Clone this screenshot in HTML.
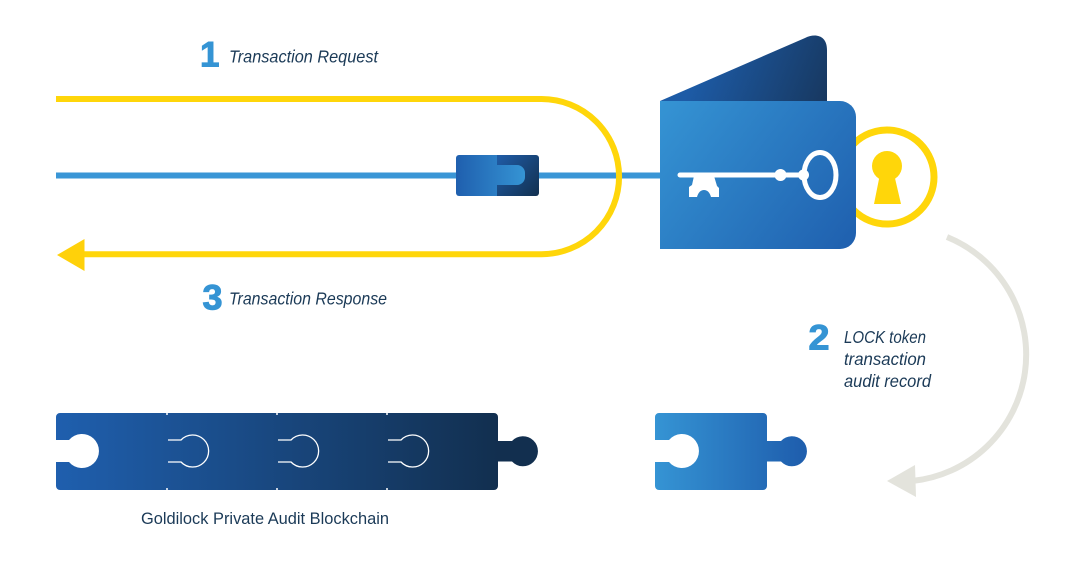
<!DOCTYPE html>
<html>
<head>
<meta charset="utf-8">
<style>
html,body{margin:0;padding:0;background:#fff;width:1080px;height:588px;overflow:hidden}
svg{display:block}
.t{font-family:"Liberation Sans",sans-serif;font-style:italic;font-size:17.500px;fill:#1b3a57}
.n{font-family:"Liberation Sans",sans-serif;font-weight:bold;font-size:35px;fill:#3594d4;stroke:#3594d4;stroke-width:1px}
</style>
</head>
<body>
<svg width="1080" height="588" viewBox="0 0 1080 588" xmlns="http://www.w3.org/2000/svg">
<defs>
<linearGradient id="wal" gradientUnits="userSpaceOnUse" x1="660" y1="101" x2="856" y2="249"><stop offset="0" stop-color="#3594d4"/><stop offset="1" stop-color="#1f5fae"/></linearGradient>
<linearGradient id="flap" gradientUnits="userSpaceOnUse" x1="700" y1="60" x2="827" y2="110"><stop offset="0" stop-color="#1d5ba6"/><stop offset="1" stop-color="#17375e"/></linearGradient>
<linearGradient id="chain" gradientUnits="userSpaceOnUse" x1="56" y1="0" x2="498" y2="0"><stop offset="0" stop-color="#1f5fae"/><stop offset="1" stop-color="#122f4f"/></linearGradient>
<linearGradient id="piece" gradientUnits="userSpaceOnUse" x1="655" y1="0" x2="800" y2="0"><stop offset="0" stop-color="#3594d4"/><stop offset="1" stop-color="#1f5fae"/></linearGradient>
<linearGradient id="tokL" gradientUnits="userSpaceOnUse" x1="456" y1="0" x2="525" y2="0"><stop offset="0" stop-color="#1f5fae"/><stop offset="1" stop-color="#3594d4"/></linearGradient>
<linearGradient id="tokR" gradientUnits="userSpaceOnUse" x1="497" y1="160" x2="539" y2="196"><stop offset="0" stop-color="#1f5aa3"/><stop offset="1" stop-color="#12304f"/></linearGradient>
</defs>

<!-- blue line -->
<rect x="56" y="172.500" width="606" height="6" fill="#3a96d6"/>

<!-- token -->
<path d="M459 155H497V196H459a3 3 0 0 1-3-3V158a3 3 0 0 1 3-3Z" fill="url(#tokL)"/>
<path d="M497 155H536a3 3 0 0 1 3 3V193a3 3 0 0 1-3 3H497Z" fill="url(#tokR)"/>
<path d="M497 165H517a8 8 0 0 1 8 8V177a8 8 0 0 1-8 8H497Z" fill="url(#tokL)"/>

<!-- yellow path -->
<path d="M56 99H541.500A77.600 77.600 0 0 1 541.500 254.200H80" fill="none" stroke="#ffd60a" stroke-width="6"/>
<path d="M57 255L84.500 239V271Z" fill="#ffd10a"/>

<!-- keyhole ring -->
<circle cx="887" cy="177" r="47" fill="#fff" stroke="#ffd60a" stroke-width="7"/>
<circle cx="887" cy="166" r="15" fill="#ffd60a"/>
<path d="M880 174H894L901 204H874Z" fill="#ffd60a"/>

<!-- wallet -->
<path d="M660 101L805 38C815 33 827 35 827 50V103H660Z" fill="url(#flap)"/>
<path d="M660 101H840a16 16 0 0 1 16 16V233a16 16 0 0 1-16 16H660Z" fill="url(#wal)"/>

<!-- key -->
<path d="M680 175H805" stroke="#fff" stroke-width="5" stroke-linecap="round" fill="none"/>
<circle cx="780.500" cy="175" r="6" fill="#fff"/>
<circle cx="803.500" cy="175" r="5.500" fill="#fff"/>
<ellipse cx="820" cy="175" rx="16" ry="22.500" fill="none" stroke="#fff" stroke-width="5"/>
<path d="M694 176H714L717 186L719 188V197H711Q709 190 704 190Q699 190 697 197H689V187L692 185Z" fill="#fff"/>

<!-- gray arc -->
<path d="M947 237A127 127 0 0 1 912 481" fill="none" stroke="#e3e3dc" stroke-width="6"/>
<path d="M887 481L915 465L916 497Z" fill="#e3e3dc"/>

<!-- chain -->
<path d="M60 413H494a4 4 0 0 1 4 4V486a4 4 0 0 1-4 4H60a4 4 0 0 1-4-4V462H69A17 17 0 1 0 69 440H56V417a4 4 0 0 1 4-4Z" fill="url(#chain)"/>
<path d="M497 441H512A15 15 0 1 1 512 461.500H497Z" fill="#122f4f"/>
<g fill="none" stroke="#fff" stroke-width="1.300">
<path d="M168 440H181A16 16 0 1 1 181 462H168"/>
<path d="M278 440H291A16 16 0 1 1 291 462H278"/>
<path d="M388 440H401A16 16 0 1 1 401 462H388"/>
</g>
<g stroke="#fff" stroke-width="1.500">
<path d="M167 413V415M167 488V490M277 413V415M277 488V490M387 413V415M387 488V490"/>
</g>

<!-- single piece -->
<path d="M659 413H763a4 4 0 0 1 4 4V486a4 4 0 0 1-4 4H659a4 4 0 0 1-4-4V462H669A17 17 0 1 0 669 440H655V417a4 4 0 0 1 4-4Z" fill="url(#piece)"/>
<path d="M766 441H781A15 15 0 1 1 781 461.500H766Z" fill="url(#piece)"/>

<!-- text -->
<text class="n" x="200" y="66.500">1</text>
<text class="t" x="229" y="62.500" textLength="149" lengthAdjust="spacingAndGlyphs">Transaction Request</text>
<text class="n" x="202.500" y="309.500" textLength="20" lengthAdjust="spacingAndGlyphs">3</text>
<text class="t" x="229" y="304.500" textLength="158" lengthAdjust="spacingAndGlyphs">Transaction Response</text>
<text class="n" x="808.500" y="349.500" textLength="21" lengthAdjust="spacingAndGlyphs">2</text>
<text class="t" x="844" y="343" textLength="82" lengthAdjust="spacingAndGlyphs">LOCK token</text>
<text class="t" x="844" y="365" textLength="82" lengthAdjust="spacingAndGlyphs">transaction</text>
<text class="t" x="844" y="387" textLength="87" lengthAdjust="spacingAndGlyphs">audit record</text>
<text x="141" y="524" textLength="248" lengthAdjust="spacingAndGlyphs" font-family="'Liberation Sans',sans-serif" font-size="17" fill="#1b3a57">Goldilock Private Audit Blockchain</text>
</svg>
</body>
</html>
